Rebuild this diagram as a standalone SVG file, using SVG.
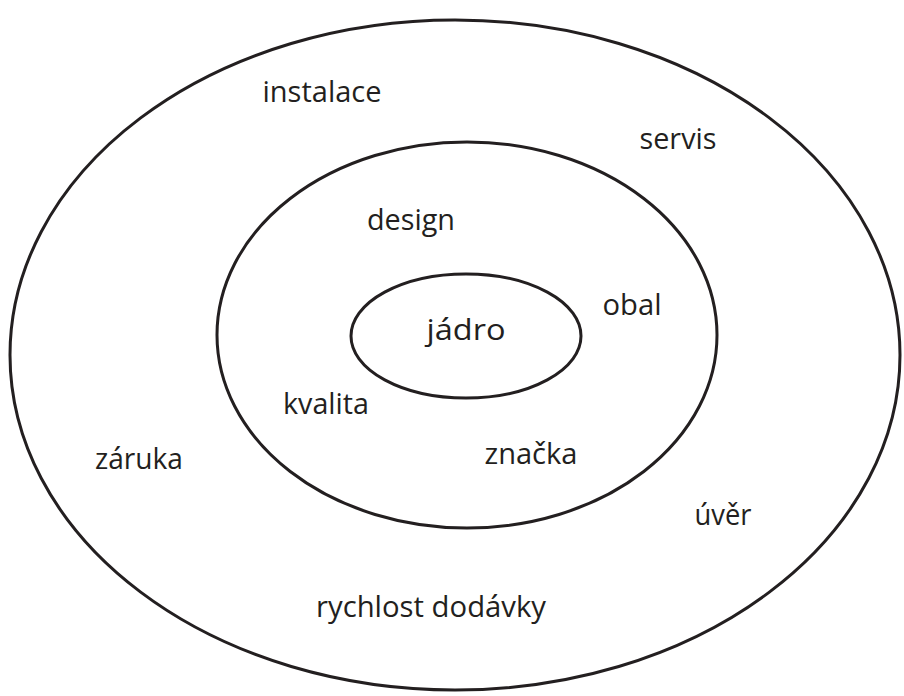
<svg xmlns="http://www.w3.org/2000/svg" width="904" height="696" viewBox="0 0 904 696">
<style>
.ring{fill:none;stroke:#231f20;stroke-width:3}
.lbl{font-family:"Open Sans","Noto Sans",sans-serif;font-size:29px;fill:#231f20;text-anchor:middle}
</style>
<rect width="904" height="696" fill="#fff"/>
<g id="outer"><ellipse class="ring" cx="455" cy="355" rx="445" ry="335"/></g>
<g id="middle"><ellipse class="ring" cx="467" cy="335" rx="250" ry="193"/></g>
<g id="inner"><ellipse class="ring" cx="466" cy="336" rx="115" ry="62"/></g>
<g id="labels">
<text class="lbl" x="322" y="102" textLength="119" lengthAdjust="spacingAndGlyphs">instalace</text>
<text class="lbl" x="678" y="149" textLength="77" lengthAdjust="spacingAndGlyphs">servis</text>
<text class="lbl" x="411" y="230" textLength="88" lengthAdjust="spacingAndGlyphs">design</text>
<text class="lbl" x="632" y="315" textLength="59" lengthAdjust="spacingAndGlyphs">obal</text>
<text class="lbl" x="466" y="340" textLength="79" lengthAdjust="spacingAndGlyphs">jádro</text>
<text class="lbl" x="326" y="414" textLength="86" lengthAdjust="spacingAndGlyphs">kvalita</text>
<text class="lbl" x="531" y="464" textLength="93" lengthAdjust="spacingAndGlyphs">značka</text>
<text class="lbl" x="139" y="469" textLength="88" lengthAdjust="spacingAndGlyphs">záruka</text>
<text class="lbl" x="723" y="525" textLength="57" lengthAdjust="spacingAndGlyphs">úvěr</text>
<text class="lbl" x="431" y="617" textLength="230" lengthAdjust="spacingAndGlyphs">rychlost dodávky</text>
</g>
</svg>
